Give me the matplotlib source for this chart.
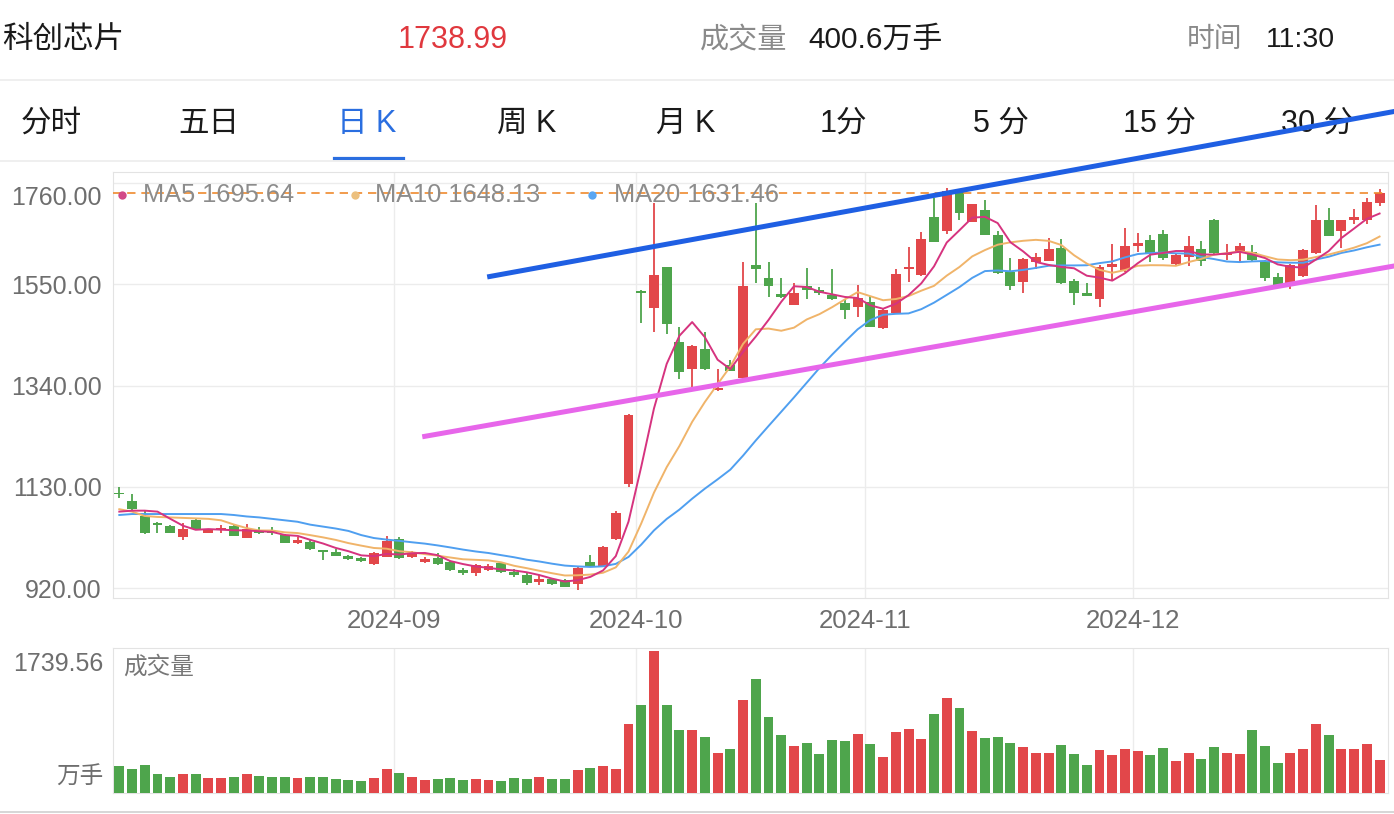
import matplotlib
matplotlib.use("Agg")
import matplotlib.pyplot as plt
from matplotlib.lines import Line2D
from matplotlib.transforms import ScaledTranslation
import numpy as np
import pandas as pd

plt.rcParams['font.family'] = ['Liberation Sans', 'Noto Sans CJK SC', 'DejaVu Sans']

W, H = 1394, 814

# 科创芯片 日K 2024-08-01 ~ 2024-12-27
opens = [1118, 1101, 1070, 1056, 1049, 1027, 1061, 1035, 1041, 1050,
         1025, 1039, 1038, 1030, 1013, 1017, 999, 996, 987, 982,
         970, 985, 1022, 984, 974, 982, 975, 958, 951, 959,
         972, 954, 948, 934, 939, 937, 929, 975, 966, 1022,
         1136, 1536, 1500, 1585, 1430, 1374, 1415, 1331, 1383, 1355,
         1590, 1562, 1530, 1507, 1546, 1538, 1528, 1512, 1503, 1514,
         1459, 1490, 1581, 1569, 1690, 1660, 1740, 1679, 1704, 1652,
         1576, 1555, 1595, 1599, 1626, 1557, 1532, 1519, 1586, 1579,
         1629, 1642, 1654, 1591, 1606, 1623, 1684, 1611, 1615, 1616,
         1597, 1564, 1552, 1566, 1615, 1682, 1660, 1684, 1682, 1718]
highs = [1131, 1116, 1082, 1058, 1051, 1055, 1065, 1044, 1051, 1052,
         1053, 1048, 1048, 1033, 1026, 1020, 1000, 1001, 989, 986,
         996, 1028, 1026, 998, 985, 993, 977, 962, 970, 970,
         974, 960, 951, 947, 942, 939, 966, 990, 1008, 1080,
         1281, 1538, 1718, 1586, 1462, 1424, 1452, 1374, 1393, 1595,
         1718, 1597, 1562, 1552, 1583, 1545, 1581, 1517, 1548, 1526,
         1500, 1581, 1628, 1659, 1728, 1749, 1745, 1717, 1724, 1660,
         1604, 1604, 1614, 1645, 1643, 1560, 1552, 1590, 1633, 1666,
         1657, 1652, 1662, 1615, 1650, 1639, 1685, 1633, 1635, 1631,
         1600, 1574, 1591, 1622, 1714, 1707, 1684, 1705, 1728, 1747]
lows = [1107, 1083, 1033, 1034, 1034, 1020, 1041, 1034, 1035, 1029,
        1024, 1033, 1031, 1013, 1011, 1000, 979, 987, 979, 975,
        968, 984, 981, 982, 972, 969, 957, 948, 946, 957,
        952, 943, 927, 928, 927, 922, 916, 964, 965, 1021,
        1130, 1469, 1452, 1447, 1353, 1334, 1373, 1329, 1370, 1354,
        1552, 1524, 1521, 1506, 1519, 1528, 1518, 1477, 1483, 1461,
        1457, 1489, 1555, 1568, 1637, 1655, 1683, 1678, 1651, 1572,
        1537, 1532, 1581, 1598, 1551, 1507, 1525, 1503, 1559, 1576,
        1617, 1597, 1600, 1590, 1588, 1588, 1613, 1600, 1597, 1598,
        1557, 1546, 1541, 1564, 1612, 1649, 1624, 1675, 1675, 1712]
closes = [1116, 1084, 1034, 1052, 1035, 1044, 1042, 1041, 1046, 1029,
          1042, 1034, 1034, 1014, 1020, 1001, 996, 988, 980, 977,
          993, 1019, 982, 993, 980, 970, 958, 951, 968, 966,
          953, 948, 932, 939, 929, 923, 962, 966, 1006, 1077,
          1280, 1531, 1569, 1468, 1368, 1422, 1374, 1336, 1371, 1546,
          1581, 1546, 1524, 1532, 1538, 1532, 1519, 1497, 1521, 1462,
          1497, 1571, 1586, 1643, 1638, 1744, 1698, 1716, 1652, 1573,
          1546, 1603, 1606, 1622, 1552, 1532, 1526, 1586, 1591, 1629,
          1635, 1615, 1604, 1611, 1629, 1599, 1614, 1615, 1629, 1601,
          1562, 1548, 1590, 1621, 1684, 1650, 1683, 1689, 1721, 1738.99]
volumes = [326, 293, 338, 236, 196, 228, 232, 187, 183, 191,
           232, 208, 196, 196, 183, 196, 196, 171, 163, 143,
           183, 293, 244, 196, 155, 171, 183, 155, 175, 155,
           147, 183, 175, 196, 171, 167, 281, 309, 334, 293,
           843, 1075, 1739.56, 1075, 774, 774, 688, 489, 538, 1140,
           1401, 936, 716, 570, 611, 480, 651, 639, 721, 599,
           440, 753, 782, 664, 965, 1168, 1046, 761, 672, 680,
           611, 562, 489, 489, 582, 480, 346, 521, 460, 541,
           509, 468, 550, 386, 484, 415, 562, 496, 477, 774,
           578, 367, 489, 538, 843, 716, 541, 541, 602, 400.6]

# MA values before a full window is available
ma5_head = [1079, 1081, 1081, 1079]
ma10_head = [1084, 1079, 1070, 1068, 1067, 1066, 1065, 1064, 1061]
ma20_head = [1072, 1074, 1074, 1074, 1074, 1074, 1074, 1074, 1074, 1072,
             1069, 1067, 1064, 1061, 1058, 1052, 1048, 1044, 1039]

# values shown in the MA legend
ma_names = ["MA5", "MA10", "MA20"]
ma_last = [1695.64, 1648.13, 1631.46]

y_levels = [920, 1130, 1340, 1550, 1760]
last_price = 1738.99
vol_max_label = "1739.56"

# hand drawn trend lines (candle index, price)
trend_blue_x, trend_blue_y = [28.9, 100.2], [1565, 1908]
trend_pink_x, trend_pink_y = [23.8, 100.2], [1234, 1588]

tabs = ["分时", "五日", "日 K", "周 K", "月 K", "1分", "5 分", "15 分", "30 分"]
tab_x = [51, 209, 367, 527, 686, 843, 1001, 1159, 1318]

holidays = pd.to_datetime(["2024-09-16", "2024-09-17", "2024-10-01", "2024-10-02",
                           "2024-10-03", "2024-10-04", "2024-10-07"])
dates = pd.bdate_range("2024-08-01", "2024-12-27")
dates = dates[~dates.isin(holidays)]

RED = '#e2474a'
GREEN = '#4ea54c'
GRID = '#ececec'

fig = plt.figure(figsize=(W / 100, H / 100), dpi=100)
fig.patch.set_facecolor('white')


def fx(px):
    return px / W


def fy(py):
    return 1 - py / H


def ftext(x, y, s, **kw):
    kw.setdefault('va', 'center')
    fig.text(fx(x), fy(y), s, **kw)


# header
ftext(2, 40, "科创芯片", fontsize=22, color='#1a1a1a', ha='left')
ftext(453, 40, f"{last_price:.2f}", fontsize=22, color='#e0383e', ha='center')
ftext(700, 40, "成交量", fontsize=21, color='#8a8a8a', ha='left')
ftext(808, 40, "400.6万手", fontsize=21.5, color='#1a1a1a', ha='left')
ftext(1187, 40, "时间", fontsize=20, color='#8a8a8a', ha='left')
ftext(1266, 40, "11:30", fontsize=20.5, color='#1a1a1a', ha='left')
fig.add_artist(Line2D([0, 1], [fy(80), fy(80)], color=GRID, lw=1.2))

for t, tx in zip(tabs, tab_x):
    col = '#2a6ee0' if t == "日 K" else '#1a1a1a'
    ftext(tx, 124, t, fontsize=22, color=col, ha='center')
fig.add_artist(Line2D([fx(334), fx(403)], [fy(158), fy(158)], color='#2a6ee0', lw=2.3))
fig.add_artist(Line2D([0, 1], [fy(160.5), fy(160.5)], color=GRID, lw=1.2))
fig.add_artist(Line2D([0, 1], [fy(812), fy(812)], color='#cfcfcf', lw=1.2))

# price panel
ax = fig.add_axes([fx(113), fy(598), fx(1275), 426 / H])
ax.set_zorder(5)
vax = fig.add_axes([fx(113), fy(793), fx(1275), 145 / H])

n = len(closes)
x = np.arange(n)
o = np.array(opens, float)
c = np.array(closes, float)
hi = np.array(highs, float)
lo = np.array(lows, float)
colors = np.where(c >= o, RED, GREEN)

ax.vlines(x, lo, hi, colors=colors, lw=1.3, zorder=3)
ax.bar(x, np.maximum(np.abs(c - o), 2.5), bottom=np.minimum(o, c), width=0.78,
       color=colors, linewidth=0, zorder=3)

s = pd.Series(c)
ma5 = s.rolling(5).mean().values
ma5[:4] = ma5_head
ma10 = s.rolling(10).mean().values
ma10[:9] = ma10_head
ma20 = s.rolling(20).mean().values
ma20[:19] = ma20_head
ax.plot(x, ma20, color='#4f9ff0', lw=1.4, zorder=4)
ax.plot(x, ma10, color='#f0b46a', lw=1.4, zorder=4)
ax.plot(x, ma5, color='#d6337f', lw=1.4, zorder=4)

ax.axhline(last_price, color='#ef8a2e', lw=1.2, ls=(0, (5, 3.5)), zorder=4)

ax.plot(trend_blue_x, trend_blue_y, color='#1f5fe3', lw=3.6, clip_on=False,
        solid_capstyle='butt', zorder=6)
ax.plot(trend_pink_x, trend_pink_y, color='#e766ea', lw=3.6, clip_on=False,
        solid_capstyle='butt', zorder=6)

xmin = -0.495
xmax = xmin + 1275 / 12.73
ax.set_xlim(xmin, xmax)
ax.set_ylim(900.1, 1782.4)

month_idx = [i for i in range(1, n) if dates[i].month != dates[i - 1].month]
month_pos = [i - 0.4 for i in month_idx]
month_lab = [dates[i].strftime("%Y-%m") for i in month_idx]

ax.set_yticks(y_levels)
ax.set_yticklabels([f"{v:.2f}" for v in y_levels], fontsize=18, color='#6e6e6e')
ax.set_xticks(month_pos)
ax.set_xticklabels(month_lab, fontsize=18.5, color='#6e6e6e')
ax.tick_params(length=0, pad=8)
ax.tick_params(axis='y', pad=8)
ax.grid(True, color=GRID, lw=1)
ax.set_axisbelow(True)
for sp in ax.spines.values():
    sp.set_color('#e3e3e3')
top_lab = ax.get_yticklabels()[-1]
top_lab.set_transform(top_lab.get_transform() + ScaledTranslation(0, -0.13, fig.dpi_scale_trans))

# MA legend
leg_dot_x = [122, 355, 592]
leg_txt_x = [143, 375, 614]
leg_col = ['#d24a88', '#ecc07e', '#5aa6f2']
for dx, tx, name, val, col in zip(leg_dot_x, leg_txt_x, ma_names, ma_last, leg_col):
    ax.plot([fx(dx)], [fy(195)], marker='o', ms=6, color=col, mec='none',
            transform=fig.transFigure, clip_on=False, zorder=7)
    ax.text(fx(tx), fy(195), f"{name} {val:.2f}", transform=fig.transFigure,
            fontsize=18.3, color='#8c8c8c', va='center', ha='left', zorder=7)

# volume panel
vax.bar(x, volumes, width=0.78, color=colors, linewidth=0, zorder=3)
vax.set_xlim(xmin, xmax)
vax.set_ylim(0, 1776)
vax.set_xticks(month_pos)
vax.set_xticklabels([])
vax.set_yticks([])
vax.tick_params(length=0)
vax.grid(True, axis='x', color=GRID, lw=1)
vax.set_axisbelow(True)
for sp in vax.spines.values():
    sp.set_color('#e3e3e3')
vax.text(10 / 1275, (793 - 667) / 145, "成交量", transform=vax.transAxes,
         fontsize=17, color='#777777', va='center', ha='left')
ftext(103, 664, vol_max_label, fontsize=18, color='#6e6e6e', ha='right')
ftext(103, 778, "万手", fontsize=17, color='#6e6e6e', ha='right')

fig.savefig("out.png", dpi=100, facecolor='white')
